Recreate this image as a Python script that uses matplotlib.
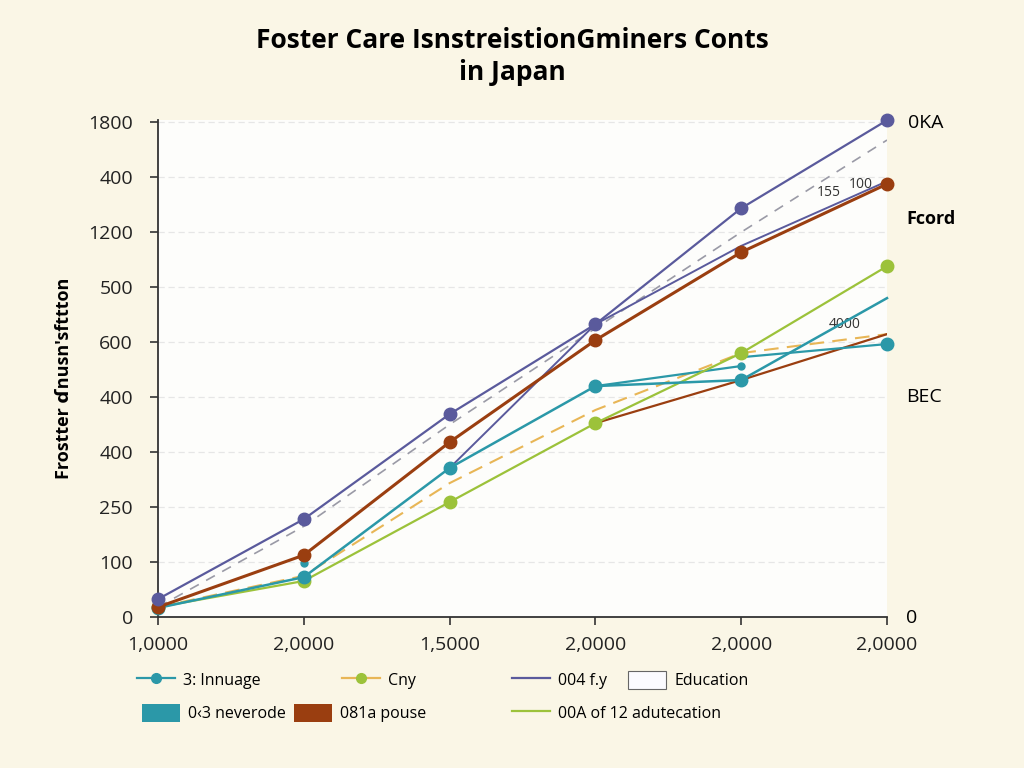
import matplotlib
matplotlib.use("Agg")
import matplotlib.pyplot as plt
from matplotlib.lines import Line2D
from matplotlib.patches import Patch

plt.rcParams['font.family'] = ['Open Sans', 'DejaVu Sans']

# ==== Data ====
x_labels = ["1,0000", "2,0000", "1,5000", "2,0000", "2,0000", "2,0000"]
y_ticks = [0, 200, 400, 600, 800, 1000, 1200, 1400, 1600, 1800]
y_labels = ["0", "100", "250", "400", "400", "600", "500", "1200", "400", "1800"]
x = [0, 1, 2, 3, 4, 5]

purple = [65, 356, 738, 1065, 1487, 1807]
brown = [36, 225, 636, 1007, 1327, 1575]
green = [36, 131, 418, 705, 960, 1276]
teal = [33, 145, 542, 840, 862, 1160]
grey_dash = [36, 330, 700, 1050, 1400, 1735]
orange_dash = [36, 150, 487, 753, 960, 1029]

# extra thin segments
purple2_x = [2, 3, 4, 5]
purple2 = [542, 1065, 1350, 1585]
brown2_x = [3, 4, 5]
brown2 = [705, 862, 1029]
teal2_x = [3, 4]
teal2 = [840, 913]
teal3_x = [4, 5]
teal3 = [945, 993]

c_purple = "#5a5a9c"
c_brown = "#9a3e10"
c_green = "#9cc23a"
c_teal = "#2b98a8"
c_orange = "#e8b656"
c_grey = "#9a9aa6"

fig = plt.figure(figsize=(10.24, 7.68), dpi=100)
fig.patch.set_facecolor("#faf6e6")
ax = fig.add_axes([158 / 1024, 1 - 617 / 768, 729 / 1024, 497 / 768])
ax.set_facecolor("#fdfdfb")

# --- lines ---
ax.plot(x, grey_dash, color=c_grey, lw=1.2, ls=(0, (6, 5)), zorder=2)
ax.plot(x, orange_dash, color=c_orange, lw=1.5, ls=(0, (7, 4)), zorder=2)
ax.plot(purple2_x, purple2, color=c_purple, lw=1.4, zorder=3)
ax.plot(brown2_x, brown2, color=c_brown, lw=1.6, zorder=3)
ax.plot(teal2_x, teal2, color=c_teal, lw=1.6, zorder=3)
ax.plot(teal3_x, teal3, color=c_teal, lw=1.6, zorder=3)
ax.plot(x, green, color=c_green, lw=1.6, marker="o", ms=9, zorder=4, clip_on=False)
ax.plot(x, teal, color=c_teal, lw=1.8, marker="o", ms=9, markevery=[0, 1, 2, 3, 4],
        zorder=4, clip_on=False)
ax.plot([5], [teal3[-1]], color=c_teal, marker="o", ms=9, ls="none", zorder=5, clip_on=False)
ax.plot([1, 4], [196, 913], color=c_teal, marker="o", ms=5, ls="none", zorder=5)
ax.plot(x, brown, color=c_brown, lw=2.2, marker="o", ms=9, zorder=5, clip_on=False)
ax.plot(x, purple, color=c_purple, lw=1.6, marker="o", ms=9, zorder=5, clip_on=False)

# --- small annotations ---
ax.text(4.52, 1530, "155", fontsize=10, color="#333333")
ax.text(4.74, 1560, "100", fontsize=10, color="#333333")
ax.text(4.6, 1050, "4000", fontsize=10, color="#333333")

# --- axes styling ---
ax.set_xlim(0, 5)
ax.set_ylim(0, 1808)
ax.set_xticks(x)
ax.set_xticklabels(x_labels, fontsize=14)
ax.set_yticks(y_ticks)
ax.set_yticklabels(y_labels, fontsize=14)
ax.tick_params(axis="both", length=6, width=1.2, color="#333333", labelcolor="#222222")
ax.tick_params(axis="y", pad=12)
ax.tick_params(axis="x", pad=8)
for s in ["top", "right"]:
    ax.spines[s].set_visible(False)
for s in ["left", "bottom"]:
    ax.spines[s].set_color("#333333")
    ax.spines[s].set_linewidth(1.3)
ax.yaxis.grid(True, color="#e6e6e6", ls=(0, (5, 3)), lw=0.9)
ax.set_axisbelow(True)

ax.set_ylabel("Frostter ɗnusn'sfttton", fontsize=13, fontweight="bold")
ax.yaxis.set_label_coords(-0.117, 0.48)

# right-hand labels
fig.text(908 / 1024, 1 - 123 / 768, "0KA", fontsize=14, va="center")
fig.text(906 / 1024, 1 - 219 / 768, "Fcord", fontsize=13, fontweight="bold", va="center")
fig.text(906 / 1024, 1 - 397 / 768, "BEC", fontsize=14, va="center")
fig.text(906 / 1024, 1 - 618 / 768, "0", fontsize=14, va="center")

fig.text(0.5, 1 - 40 / 768, "Foster Care IsnstreistionGminers Conts", fontsize=19,
         fontweight="bold", ha="center", va="center")
fig.text(0.5, 1 - 73 / 768, "in Japan", fontsize=19, fontweight="bold", ha="center", va="center")

# --- legend entries placed one by one ---
entries = [
    (Line2D([], [], color=c_teal, marker="o", ms=7, lw=1.6), "3: Innuage", 137, 680),
    (Line2D([], [], color=c_orange, marker="o", ms=7, mfc=c_green, mec=c_green, lw=1.6), "Cny", 342, 680),
    (Line2D([], [], color=c_purple, lw=1.6), "004 f.y", 512, 680),
    (Patch(facecolor="#fbfbff", edgecolor="#666666", lw=0.8), "Education", 628, 680),
    (Patch(facecolor=c_teal), "0‹3 neverode", 142, 713),
    (Patch(facecolor=c_brown), "081a pouse", 294, 713),
    (Line2D([], [], color=c_green, lw=1.6), "00A of 12 adutecation", 512, 713),
]
for h, lab, px, py in entries:
    fig.legend([h], [lab], loc="center left", bbox_to_anchor=(px / 1024, 1 - py / 768),
               frameon=False, fontsize=11.5, handlelength=2.4, handleheight=1.4,
               handletextpad=0.5, borderaxespad=0, borderpad=0)

fig.savefig("out.png", dpi=100, facecolor=fig.get_facecolor())
